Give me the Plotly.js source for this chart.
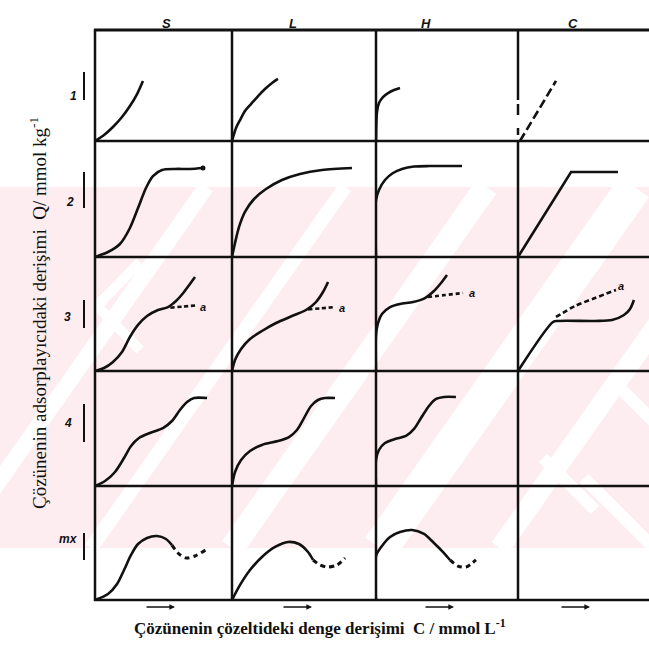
<!DOCTYPE html>
<html>
<head>
<meta charset="utf-8">
<script src="https://cdn.plot.ly/plotly-3.0.1.min.js"></script>
<style>html,body{margin:0;padding:0;background:#fff}#chart{width:649px;height:660px}</style>
</head>
<body>
<div id="chart"></div>
<script>
// ---------- categories / labels ----------
const columnLabels = ['S', 'L', 'H', 'C'];
const rowLabels = ['1', '2', '3', '4', 'mx'];
const xTitle = 'Çözünenin çözeltideki denge derişimi  C / mmol L<sup>-1</sup>';
const yTitle = 'Çözünenin adsorplayıcıdaki derişimi  Q/ mmol kg<sup>-1</sup>';
const branchLabel = 'a';

// ---------- curve values (relative C, relative Q; 0..10 in each panel) ----------
// row 1
const s1_x = [0, 0.66, 1.31, 1.97, 2.55, 3.07, 3.50];
const s1_y = [0, 0.54, 1.26, 2.16, 3.15, 4.23, 5.41];
const l1_x = [0, 0.28, 0.56, 0.90, 1.32, 1.81, 2.29, 2.78, 3.19];
const l1_y = [0, 1.17, 1.89, 2.70, 3.33, 4.05, 4.68, 5.23, 5.59];
const h1_x = [0, 0.07, 0.21, 0.49, 0.85, 1.27, 1.69];
const h1_y = [0, 2.61, 3.42, 3.96, 4.32, 4.59, 4.77];
const c1_x = [0.15, 2.90];
const c1_y = [0, 5.41];
// row 2
const s2_x = [0, 0.95, 1.82, 2.55, 3.14, 3.72, 4.23, 4.89, 5.84, 6.93, 7.88];
const s2_y = [0, 0.43, 1.12, 2.50, 4.22, 5.95, 6.98, 7.50, 7.59, 7.59, 7.67];
const l2_x = [0, 0.21, 0.49, 0.90, 1.53, 2.36, 3.47, 4.72, 6.25, 8.33];
const l2_y = [0, 1.21, 2.59, 3.88, 5.00, 5.86, 6.64, 7.16, 7.50, 7.67];
const h2_x = [0, 0, 0.21, 0.63, 1.20, 1.83, 2.68, 3.80, 6.06];
const h2_y = [0, 4.91, 5.78, 6.64, 7.24, 7.59, 7.80, 7.84, 7.84];
const c2_x = [0, 4.05, 7.63];
const c2_y = [0, 7.33, 7.33];
// row 3
const s3_x = [0, 0.66, 1.31, 1.97, 2.55, 3.14, 3.80, 4.60, 5.33, 5.91, 6.50, 6.93, 7.30];
const s3_y = [0, 0.26, 0.79, 1.67, 2.98, 4.04, 4.82, 5.35, 5.61, 6.14, 6.93, 7.63, 8.25];
const s3a_x = [5.5, 6.4, 7.4];
const s3a_y = [5.55, 5.65, 5.75];
const l3_x = [0, 0.21, 0.63, 1.25, 2.08, 3.06, 4.17, 5.14, 5.83, 6.32, 6.67];
const l3_y = [0, 0.96, 1.93, 2.81, 3.51, 4.21, 4.82, 5.35, 6.05, 6.93, 7.81];
const l3a_x = [5.28, 6.2, 7.08];
const l3a_y = [5.40, 5.50, 5.60];
const h3_x = [0, 0, 0.14, 0.42, 0.99, 1.69, 2.61, 3.45, 4.08, 4.58, 5.00];
const h3_y = [0, 3.16, 4.21, 5.00, 5.61, 5.88, 6.05, 6.40, 7.02, 7.72, 8.42];
const h3a_x = [3.66, 4.9, 6.13];
const h3a_y = [6.49, 6.67, 6.84];
const c3_x = [0, 2.67, 3.05, 5.88, 7.18, 8.09, 8.55, 8.85];
const c3_y = [0, 4.30, 4.39, 4.39, 4.47, 4.91, 5.44, 6.23];
const c3a_x = [2.90, 4.35, 5.88, 7.48];
const c3a_y = [4.74, 5.70, 6.40, 7.11];
// row 4
const s4_x = [0, 0.73, 1.46, 2.12, 2.63, 3.21, 4.01, 4.96, 5.62, 6.20, 6.72, 7.23, 8.18];
const s4_y = [0, 0.43, 1.22, 2.43, 3.48, 4.17, 4.61, 5.04, 5.65, 6.61, 7.30, 7.65, 7.65];
const l4_x = [0, 0.21, 0.63, 1.25, 2.08, 3.19, 3.96, 4.51, 5.00, 5.49, 5.97, 6.46, 7.15];
const l4_y = [0, 1.22, 2.26, 3.04, 3.57, 3.91, 4.26, 4.87, 5.91, 6.96, 7.48, 7.65, 7.65];
const h4_x = [0, 0, 0.21, 0.63, 1.34, 2.11, 2.68, 3.17, 3.73, 4.23, 4.79, 5.63];
const h4_y = [0, 2.26, 3.13, 3.74, 4.09, 4.35, 4.96, 5.91, 6.96, 7.57, 7.74, 7.74];
// row 5 (mx)
const s5_x = [0, 0.95, 1.61, 2.12, 2.63, 3.14, 3.80, 4.53, 5.18, 5.62];
const s5_y = [0, 0.53, 1.40, 2.63, 3.95, 4.91, 5.44, 5.61, 5.35, 4.82];
const s5d_x = [5.62, 6.06, 6.64, 7.30, 8.18];
const s5d_y = [4.82, 4.12, 3.68, 3.86, 4.47];
const l5_x = [0, 0.56, 1.25, 2.08, 2.99, 3.89, 4.65, 5.28, 5.63];
const l5_y = [0, 1.32, 2.63, 3.77, 4.65, 5.09, 4.91, 4.21, 3.51];
const l5d_x = [5.63, 6.11, 6.67, 7.29, 7.85];
const l5d_y = [3.51, 3.07, 2.89, 3.07, 3.68];
const h5_x = [0, 0, 0.42, 0.99, 1.69, 2.54, 3.38, 4.08, 4.79, 5.21];
const h5_y = [0, 3.86, 4.74, 5.53, 5.96, 6.14, 5.79, 5.00, 4.12, 3.51];
const h5d_x = [5.21, 5.77, 6.34, 7.04];
const h5d_y = [3.51, 2.98, 2.89, 3.51];

// ---------- layout geometry (pixels of the 649x660 page) ----------
const W = 649, H = 660;
const colLeft = [95, 232, 376, 518], colRight = [232, 376, 518, 649];
const rowTop = [30, 141, 257, 371, 486], rowBottom = [141, 257, 371, 486, 600];
const PX = x => x / W, PY = y => 1 - y / H;
const axisN = (r, c) => r * 4 + c + 1;
const ax = (p, n) => n === 1 ? p : p + n;

const black = '#111111';
const LW = 2.6;
const traces = [];
function curve(r, c, x, y, opt) {
  opt = opt || {};
  const n = axisN(r, c);
  const t = {
    type: 'scatter', mode: opt.mode || 'lines', x: x, y: y,
    xaxis: ax('x', n), yaxis: ax('y', n),
    line: {color: black, width: opt.width || LW, dash: opt.dash || 'solid',
           shape: opt.linear ? 'linear' : 'spline', smoothing: 0.8},
    hoverinfo: 'skip', showlegend: false, cliponaxis: false
  };
  if (opt.marker) t.marker = opt.marker;
  traces.push(t);
}
const shortDash = '4px,3px';
const mxDash = '5px,4px';
// row 1
curve(0, 0, s1_x, s1_y);
curve(0, 1, l1_x, l1_y);
curve(0, 2, h1_x, h1_y);
curve(0, 3, c1_x, c1_y, {linear: true, dash: '9px,4px'});
// row 2
curve(1, 0, s2_x, s2_y);
curve(1, 0, [s2_x[s2_x.length - 1]], [s2_y[s2_y.length - 1]], {mode: 'markers', marker: {color: black, size: 5}});
curve(1, 1, l2_x, l2_y);
curve(1, 2, h2_x, h2_y);
curve(1, 3, c2_x, c2_y, {linear: true});
// row 3
curve(2, 0, s3_x, s3_y);
curve(2, 0, s3a_x, s3a_y, {dash: shortDash});
curve(2, 1, l3_x, l3_y);
curve(2, 1, l3a_x, l3a_y, {dash: shortDash});
curve(2, 2, h3_x, h3_y);
curve(2, 2, h3a_x, h3a_y, {dash: shortDash});
curve(2, 3, c3_x, c3_y);
curve(2, 3, c3a_x, c3a_y, {dash: '5px,3px'});
// row 4
curve(3, 0, s4_x, s4_y);
curve(3, 1, l4_x, l4_y);
curve(3, 2, h4_x, h4_y);
// row 5
curve(4, 0, s5_x, s5_y);
curve(4, 0, s5d_x, s5d_y, {dash: mxDash, width: 3});
curve(4, 1, l5_x, l5_y);
curve(4, 1, l5d_x, l5d_y, {dash: mxDash, width: 3});
curve(4, 2, h5_x, h5_y);
curve(4, 2, h5d_x, h5d_y, {dash: mxDash, width: 3});

// ---------- axes ----------
const layout = {
  width: W, height: H, margin: {l: 0, r: 0, t: 0, b: 0},
  paper_bgcolor: '#ffffff', plot_bgcolor: 'rgba(0,0,0,0)',
  showlegend: false, shapes: [], annotations: []
};
for (let r = 0; r < 5; r++) {
  for (let c = 0; c < 4; c++) {
    const n = axisN(r, c);
    const hidden = {visible: false, showgrid: false, zeroline: false, fixedrange: true};
    layout[n === 1 ? 'xaxis' : 'xaxis' + n] = Object.assign({
      domain: [PX(colLeft[c]), PX(colRight[c])], range: [0, 10], anchor: ax('y', n)
    }, hidden);
    layout[n === 1 ? 'yaxis' : 'yaxis' + n] = Object.assign({
      domain: [PY(rowBottom[r]), PY(rowTop[r])], range: [0, 10], anchor: ax('x', n)
    }, hidden);
  }
}

// ---------- watermark (background decoration) ----------
const pink = '#fdedf0';
layout.shapes.push({type: 'rect', xref: 'paper', yref: 'paper', layer: 'below',
  x0: 0, x1: 1, y0: PY(548), y1: PY(187), fillcolor: pink, line: {width: 0}});
function wline(x0, y0, x1, y1, w) {
  layout.shapes.push({type: 'line', xref: 'paper', yref: 'paper', layer: 'below',
    x0: PX(x0), y0: PY(y0), x1: PX(x1), y1: PY(y1), line: {color: '#ffffff', width: w}});
}
const slope = 1.42, bandH = 361;
[[-48, 16], [91, 14], [232, 24], [380, 36], [500, 20]].forEach(s =>
  wline(s[0], 548, s[0] + bandH / slope, 187, s[1]));
wline(612, 380, 668, 436, 12);
wline(543, 458, 595, 510, 12);
wline(584, 478, 660, 554, 12);
wline(97, 306, 140, 262, 10);
wline(97, 306, 140, 350, 10);

// ---------- frame ----------
function fline(x0, y0, x1, y1, w) {
  layout.shapes.push({type: 'line', xref: 'paper', yref: 'paper', layer: 'below',
    x0: PX(x0), y0: PY(y0), x1: PX(x1), y1: PY(y1), line: {color: black, width: w}});
}
rowTop.concat([600]).forEach((y, i) => fline(94, y, 649, y, i === 0 ? 3 : 2.5));
fline(95, 29, 95, 601, 2.5);
fline(232, 29, 232, 601, 2.5);
fline(376, 29, 376, 601, 2.5);
fline(518, 29, 518, 100, 2.5);
fline(518, 104, 518, 115, 2.5);
fline(518, 128, 518, 135, 2.5);
fline(518, 141, 518, 601, 2.5);

// row label bars
const barTop = [72, 172, 300, 404, 533], barBottom = [100, 208, 328, 442, 560];
const rowLabelX = [68, 64, 62, 62, 57], rowLabelY = [87, 193, 317, 423, 548];
for (let r = 0; r < 5; r++) {
  fline(84, barTop[r], 84, barBottom[r], 2);
  layout.annotations.push({xref: 'paper', yref: 'paper', x: PX(rowLabelX[r]), y: PY(rowLabelY[r]),
    text: '<b><i>' + rowLabels[r] + '</i></b>', showarrow: false,
    font: {family: 'Liberation Sans', size: 12, color: black}});
}
// column labels
const colLabelX = [160, 293, 433, 580];
columnLabels.forEach((t, c) => layout.annotations.push({xref: 'paper', yref: 'paper',
  x: PX(colLabelX[c]), y: PY(14), text: '<b><i>' + t + '</i></b>', showarrow: false,
  font: {family: 'Liberation Sans', size: 13, color: black}}));
// arrows below columns
const arrowStart = [145, 282, 424, 560];
arrowStart.forEach(x => layout.annotations.push({xref: 'paper', yref: 'paper',
  x: PX(x + 30), y: PY(607), ax: -30, ay: 0, text: '', showarrow: true,
  arrowhead: 2, arrowsize: 0.7, arrowwidth: 1.6, arrowcolor: black}));
// branch 'a' labels
[[2, 0, 7.9, 5.6], [2, 1, 7.64, 5.53], [2, 2, 6.76, 6.84], [2, 3, 7.86, 7.46]].forEach(a => {
  const n = axisN(a[0], a[1]);
  layout.annotations.push({xref: ax('x', n), yref: ax('y', n), x: a[2], y: a[3],
    text: '<b><i>' + branchLabel + '</i></b>', showarrow: false,
    font: {family: 'Liberation Sans', size: 11, color: black}});
});
// axis titles
layout.annotations.push({xref: 'paper', yref: 'paper', x: PX(320), y: PY(640),
  text: '<b>' + xTitle + '</b>', showarrow: false,
  font: {family: 'Liberation Serif', size: 17, color: black}});
layout.annotations.push({xref: 'paper', yref: 'paper', x: PX(24), y: PY(313),
  text: yTitle, textangle: -90, showarrow: false,
  font: {family: 'Liberation Serif', size: 19, color: black}});

Plotly.newPlot('chart', traces, layout, {displayModeBar: false, staticPlot: true});
</script>
</body>
</html>
